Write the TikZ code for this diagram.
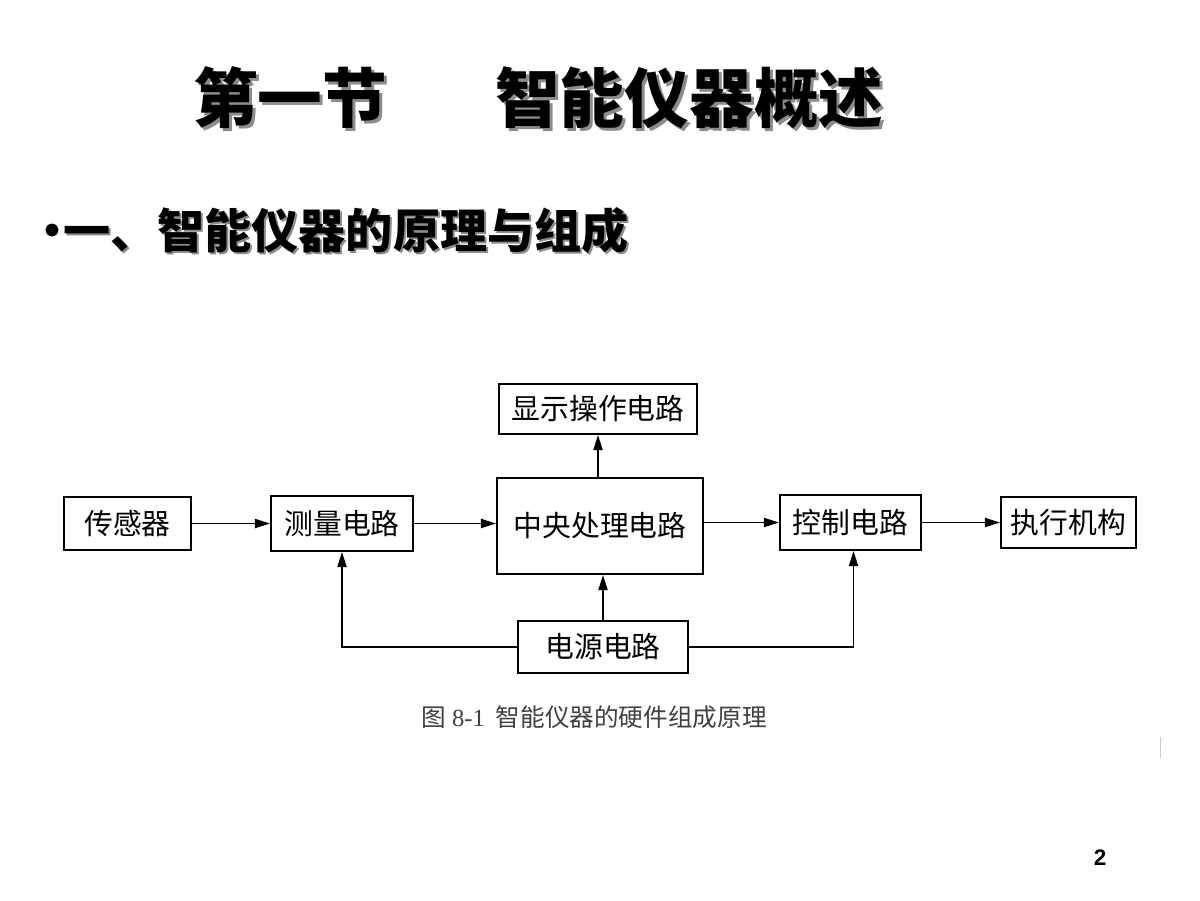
\documentclass[tikz,border=0pt]{standalone}
\usepackage{fontspec}
\setmainfont{Liberation Sans}
\newfontfamily\cjk{Noto Sans CJK SC}
\newfontfamily\capserif{Liberation Serif}
\usetikzlibrary{arrows.meta}

\tikzset{
	blk/.style={draw, line width=1.4pt, inner sep=0pt, align=center, font=\cjk\fontsize{20.5}{22}\selectfont},
	sig/.style={line width=1.1pt, -{Triangle[length=3.8mm,width=2.3mm]}},
	headline/.style={inner sep=0pt, anchor=west, font=\cjk\bfseries\fontsize{46}{50}\selectfont},
	subline/.style={inner sep=0pt, anchor=west, font=\cjk\bfseries\fontsize{33.5}{36}\selectfont},
}

\begin{document}
\begin{tikzpicture}[x=0.025cm, y=-0.025cm]
			%%%%% START %%%%%
			
			\useasboundingbox[fill=white] (0, 0) rectangle (1200, 900);
			
			% title, with its shadow
			\node[headline, black!45] at (196, 101) {第一节};
			\node[headline] (sec) at (193, 98) {第一节};
			\node[headline, black!45] at (498, 101) {智能仪器概述};
			\node[headline] (topic) at (495, 98) {智能仪器概述};
			
			\fill (52, 230) circle[radius=0.16cm];
			\node[subline, black!45] at (65, 233) {一、智能仪器的原理与组成};
			\node[subline] (sub) at (63, 231) {一、智能仪器的原理与组成};
			
			% blocks
			\node[blk, minimum width=3.175cm, minimum height=1.325cm] (sensor) at (127.5, 523.5) {传感器};
			\node[blk, minimum width=3.55cm, minimum height=1.375cm] (meas) at (342, 523.5) {测量电路};
			\node[blk, minimum width=5.15cm, minimum height=2.4cm] (cpu) at (600, 526) {中央处理电路};
			\node[blk, minimum width=4.95cm, minimum height=1.25cm] (disp) at (598, 409) {显示操作电路};
			\node[blk, minimum width=3.525cm, minimum height=1.375cm] (ctrl) at (850.5, 522.5) {控制电路};
			\node[blk, minimum width=3.375cm, minimum height=1.275cm] (exec) at (1068.5, 522.5) {执行机构};
			\node[blk, minimum width=4.25cm, minimum height=1.3cm] (power) at (603, 647) {电源电路};
			
			% signal flow
			\draw[sig] (sensor.east) -- (sensor.east -| meas.west);
			\draw[sig] (meas.east) -- (meas.east -| cpu.west);
			\draw[sig] (ctrl.east -| cpu.east) -- (ctrl.west);
			\draw[sig] (ctrl.east) -- (ctrl.east -| exec.west);
			\draw[sig] (disp.south |- cpu.north) -- (disp.south);
			
			% supply
			\draw[sig] (power.north) -- (power.north |- cpu.south);
			\draw[sig] (power.west) -| (meas.south);
			\draw[sig] (power.east) -| ([xshift=0.075cm]ctrl.south);
			
			\node[inner sep=0pt, black!75, font=\cjk\fontsize{17.5}{19}\selectfont] (cap) at (594, 717) {图{\capserif\ 8-1}\ \ 智能仪器的硬件组成原理};
			
			\draw[black!20, line width=0.7pt] (1160, 737) -- (1160, 758);
			
			\node[inner sep=0pt, font=\bfseries\fontsize{16}{18}\selectfont] (page) at (1100, 858) {2};
			
			%%%%% END %%%%%
\end{tikzpicture}
\end{document}
